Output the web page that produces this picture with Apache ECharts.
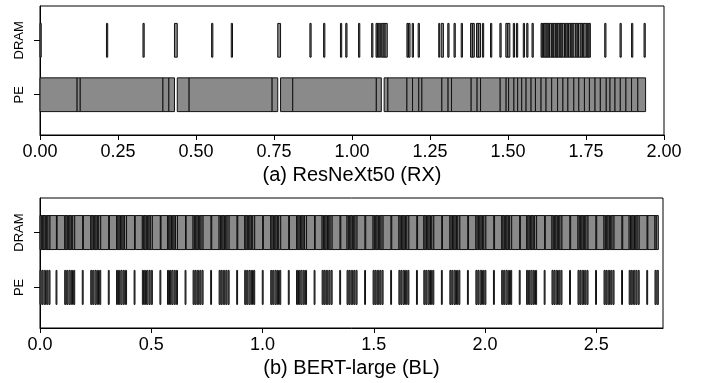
<!DOCTYPE html>
<html>
<head>
<meta charset="utf-8">
<script src="https://cdn.jsdelivr.net/npm/echarts@6/dist/echarts.min.js"></script>
<style>
    html, body { margin: 0; padding: 0; background: #fff; }
    #chart { width: 702px; height: 383px; }
</style>
</head>
<body>
<div id="chart"></div>
<script>
    // rows on the y axis: 0 = PE, 1 = DRAM
    const ROWS = ['PE', 'DRAM'];
    const TICKS_A = [0, 0.25, 0.5, 0.75, 1, 1.25, 1.5, 1.75, 2];
    const TICKS_B = [0, 0.5, 1, 1.5, 2, 2.5];

    // (a) ResNeXt50: DRAM accesses [start, end]
    const DRAM_A = [
        [0.000, 0.004], [0.213, 0.217], [0.330, 0.334], [0.431, 0.440], [0.550, 0.554], [0.613, 0.617],
        [0.762, 0.771], [0.865, 0.869], [0.909, 0.913], [0.963, 0.967], [0.980, 0.984], [1.021, 1.025],
        [1.063, 1.067], [1.077, 1.081], [1.082, 1.086], [1.087, 1.092], [1.094, 1.100], [1.100, 1.106],
        [1.106, 1.113], [1.176, 1.180], [1.181, 1.186], [1.193, 1.197], [1.212, 1.216], [1.278, 1.281],
        [1.286, 1.293], [1.307, 1.311], [1.327, 1.331], [1.350, 1.354], [1.380, 1.386], [1.386, 1.392],
        [1.399, 1.405], [1.405, 1.412], [1.418, 1.422], [1.444, 1.448], [1.474, 1.478], [1.493, 1.499],
        [1.499, 1.506], [1.517, 1.521], [1.527, 1.531], [1.549, 1.553], [1.560, 1.564], [1.577, 1.581],
        [1.606, 1.610], [1.610, 1.614], [1.614, 1.619], [1.619, 1.625], [1.625, 1.629], [1.629, 1.633],
        [1.633, 1.640], [1.640, 1.644], [1.644, 1.647], [1.647, 1.653], [1.653, 1.657], [1.657, 1.660],
        [1.660, 1.666], [1.666, 1.670], [1.670, 1.674], [1.674, 1.681], [1.681, 1.685], [1.685, 1.690],
        [1.690, 1.694], [1.694, 1.700], [1.700, 1.705], [1.705, 1.709], [1.709, 1.717], [1.717, 1.722],
        [1.722, 1.726], [1.726, 1.734], [1.734, 1.739], [1.739, 1.743], [1.743, 1.751], [1.751, 1.756],
        [1.756, 1.760], [1.760, 1.764],
        [1.810, 1.814], [1.859, 1.863], [1.896, 1.900], [1.936, 1.940]
    ];
    // (a) PE compute segments [start, end]
    const PE_A = [
        [0.000, 0.119], [0.119, 0.129], [0.129, 0.394], [0.394, 0.413], [0.413, 0.431],
        [0.440, 0.478], [0.478, 0.744], [0.744, 0.762],
        [0.771, 0.810], [0.810, 1.078], [1.078, 1.094],
        [1.103, 1.115], [1.115, 1.176], [1.176, 1.194], [1.194, 1.214], [1.214, 1.224], [1.224, 1.288],
        [1.288, 1.308], [1.308, 1.319], [1.319, 1.382], [1.382, 1.401], [1.401, 1.412], [1.412, 1.475],
        [1.475, 1.494], [1.494, 1.502], [1.502, 1.519], [1.519, 1.531], [1.531, 1.544], [1.544, 1.558],
        [1.558, 1.574], [1.574, 1.588], [1.588, 1.606], [1.606, 1.622], [1.622, 1.640], [1.640, 1.659],
        [1.659, 1.676], [1.676, 1.692], [1.692, 1.711], [1.711, 1.727], [1.727, 1.745], [1.745, 1.761],
        [1.761, 1.779], [1.779, 1.796], [1.796, 1.815], [1.815, 1.827], [1.827, 1.843], [1.843, 1.860],
        [1.860, 1.878], [1.878, 1.896], [1.896, 1.916], [1.916, 1.941]
    ];

    // (b) BERT-large: DRAM segment edges (back to back)
    const DRAM_B_EDGES = [
        0.000, 0.006, 0.012, 0.018, 0.024, 0.030, 0.036, 0.045, 0.074, 0.077,
        0.111, 0.117, 0.123, 0.129, 0.135, 0.141, 0.147, 0.156, 0.192, 0.195,
        0.228, 0.234, 0.240, 0.246, 0.252, 0.258, 0.264, 0.273, 0.309, 0.312,
        0.344, 0.350, 0.356, 0.362, 0.368, 0.374, 0.380, 0.389, 0.425, 0.428,
        0.460, 0.466, 0.472, 0.478, 0.484, 0.490, 0.496, 0.505, 0.541, 0.544,
        0.573, 0.579, 0.585, 0.591, 0.597, 0.603, 0.609, 0.618, 0.654, 0.657,
        0.688, 0.694, 0.700, 0.706, 0.712, 0.718, 0.724, 0.733, 0.769, 0.772,
        0.805, 0.811, 0.817, 0.823, 0.829, 0.835, 0.841, 0.850, 0.886, 0.889,
        0.920, 0.926, 0.932, 0.938, 0.944, 0.950, 0.956, 0.965, 1.001, 1.004,
        1.037, 1.043, 1.049, 1.055, 1.061, 1.067, 1.073, 1.082, 1.118, 1.121,
        1.153, 1.159, 1.165, 1.171, 1.177, 1.183, 1.189, 1.198, 1.234, 1.237,
        1.268, 1.274, 1.280, 1.286, 1.292, 1.298, 1.304, 1.313, 1.349, 1.352,
        1.380, 1.386, 1.392, 1.398, 1.404, 1.410, 1.416, 1.425, 1.461, 1.464,
        1.497, 1.503, 1.509, 1.515, 1.521, 1.527, 1.533, 1.542, 1.578, 1.581,
        1.613, 1.619, 1.625, 1.631, 1.637, 1.643, 1.649, 1.658, 1.694, 1.697,
        1.725, 1.731, 1.737, 1.743, 1.749, 1.755, 1.761, 1.770, 1.806, 1.809,
        1.842, 1.848, 1.854, 1.860, 1.866, 1.872, 1.878, 1.887, 1.923, 1.926,
        1.959, 1.965, 1.971, 1.977, 1.983, 1.989, 1.995, 2.004, 2.040, 2.043,
        2.075, 2.081, 2.087, 2.093, 2.099, 2.105, 2.111, 2.120, 2.156, 2.159,
        2.187, 2.193, 2.199, 2.205, 2.211, 2.217, 2.223, 2.232, 2.268, 2.271,
        2.301, 2.307, 2.313, 2.319, 2.325, 2.331, 2.337, 2.346, 2.382, 2.385,
        2.418, 2.424, 2.430, 2.436, 2.442, 2.448, 2.454, 2.463, 2.499, 2.502,
        2.535, 2.541, 2.547, 2.553, 2.559, 2.565, 2.571, 2.580, 2.616, 2.619,
        2.648, 2.654, 2.660, 2.666, 2.672, 2.678, 2.684, 2.693, 2.729, 2.732,
        2.764, 2.770, 2.779
    ];
    // (b) PE bursts [start, end]
    const PE_B = [
        [0.000, 0.005], [0.009, 0.014], [0.019, 0.025], [0.030, 0.035], [0.040, 0.045], [0.072, 0.076],
        [0.111, 0.116], [0.120, 0.125], [0.130, 0.136], [0.141, 0.146], [0.151, 0.156], [0.190, 0.194],
        [0.228, 0.233], [0.237, 0.242], [0.247, 0.253], [0.258, 0.263], [0.268, 0.273], [0.307, 0.311],
        [0.344, 0.349], [0.353, 0.358], [0.363, 0.369], [0.374, 0.379], [0.384, 0.389], [0.423, 0.427],
        [0.460, 0.465], [0.469, 0.474], [0.479, 0.485], [0.490, 0.495], [0.500, 0.505], [0.539, 0.543],
        [0.573, 0.578], [0.582, 0.587], [0.592, 0.598], [0.603, 0.608], [0.613, 0.618], [0.652, 0.656],
        [0.688, 0.693], [0.697, 0.702], [0.707, 0.713], [0.718, 0.723], [0.728, 0.733], [0.767, 0.771],
        [0.805, 0.810], [0.814, 0.819], [0.824, 0.830], [0.835, 0.840], [0.845, 0.850], [0.884, 0.888],
        [0.920, 0.925], [0.929, 0.934], [0.939, 0.945], [0.950, 0.955], [0.960, 0.965], [0.999, 1.003],
        [1.037, 1.042], [1.046, 1.051], [1.056, 1.062], [1.067, 1.072], [1.077, 1.082], [1.116, 1.120],
        [1.153, 1.158], [1.162, 1.167], [1.172, 1.178], [1.183, 1.188], [1.193, 1.198], [1.232, 1.236],
        [1.268, 1.273], [1.277, 1.282], [1.287, 1.293], [1.298, 1.303], [1.308, 1.313], [1.347, 1.351],
        [1.380, 1.385], [1.389, 1.394], [1.399, 1.405], [1.410, 1.415], [1.420, 1.425], [1.459, 1.463],
        [1.497, 1.502], [1.506, 1.511], [1.516, 1.522], [1.527, 1.532], [1.537, 1.542], [1.576, 1.580],
        [1.613, 1.618], [1.622, 1.627], [1.632, 1.638], [1.643, 1.648], [1.653, 1.658], [1.692, 1.696],
        [1.725, 1.730], [1.734, 1.739], [1.744, 1.750], [1.755, 1.760], [1.765, 1.770], [1.804, 1.808],
        [1.842, 1.847], [1.851, 1.856], [1.861, 1.867], [1.872, 1.877], [1.882, 1.887], [1.921, 1.925],
        [1.959, 1.964], [1.968, 1.973], [1.978, 1.984], [1.989, 1.994], [1.999, 2.004], [2.038, 2.042],
        [2.075, 2.080], [2.084, 2.089], [2.094, 2.100], [2.105, 2.110], [2.115, 2.120], [2.154, 2.158],
        [2.187, 2.192], [2.196, 2.201], [2.206, 2.212], [2.217, 2.222], [2.227, 2.232], [2.266, 2.270],
        [2.301, 2.306], [2.310, 2.315], [2.320, 2.326], [2.331, 2.336], [2.341, 2.346], [2.380, 2.384],
        [2.418, 2.423], [2.427, 2.432], [2.437, 2.443], [2.448, 2.453], [2.458, 2.463], [2.497, 2.501],
        [2.535, 2.540], [2.544, 2.549], [2.554, 2.560], [2.565, 2.570], [2.575, 2.580], [2.614, 2.618],
        [2.648, 2.653], [2.657, 2.662], [2.667, 2.673], [2.678, 2.683], [2.688, 2.693], [2.727, 2.731],
        [2.764, 2.769], [2.773, 2.779]
    ];

    let chart = echarts.init(document.getElementById('chart'), null, {renderer: 'canvas'});

    const FONT = 'Liberation Sans, Arial, sans-serif';
    const BAR_H = 0.62;

    let toItems = (pairs, row) => pairs.map((p) => [p[0], p[1], row]);
    let edgeItems = (edges, row) => {
        let out = [];
        for (let i = 0; i < edges.length - 1; i++) {
            out.push([edges[i], edges[i + 1], row]);
        }
        return out;
    };

    let renderItem = function (params, api) {
        let row = api.value(2);
        let s = api.coord([api.value(0), row]);
        let e = api.coord([api.value(1), row]);
        let h = api.size([0, BAR_H])[1];
        return {
            type: 'rect',
            shape: {x: s[0], y: s[1] - h / 2, width: Math.max(e[0] - s[0], 0.5), height: h},
            style: {fill: '#8a8a8a', stroke: '#111', lineWidth: 1}
        };
    };

    let xAxisOf = (grid, max, ticks, digits, name) => ({
        type: 'value',
        gridIndex: grid,
        min: 0,
        max: max,
        name: name,
        nameLocation: 'middle',
        nameGap: 30,
        nameTextStyle: {fontSize: 20, color: '#000', fontFamily: FONT},
        axisLine: {show: true, onZero: false, lineStyle: {color: '#000', width: 1}},
        axisTick: {show: true, length: 5, customValues: ticks, lineStyle: {color: '#000'}},
        axisLabel: {
            customValues: ticks,
            margin: 8,
            fontSize: 18,
            color: '#000',
            fontFamily: FONT,
            formatter: (v) => Number(v).toFixed(digits)
        },
        splitLine: {show: false}
    });

    let yAxisOf = (grid) => ({
        type: 'value',
        gridIndex: grid,
        min: -0.74,
        max: 1.63,
        axisLine: {show: true, onZero: false, lineStyle: {color: '#000', width: 1}},
        axisTick: {show: true, length: 6, customValues: [0, 1], lineStyle: {color: '#000'}},
        axisLabel: {
            customValues: [0, 1],
            rotate: 90,
            margin: 14,
            fontSize: 13,
            color: '#000',
            fontFamily: FONT,
            formatter: (v) => ROWS[Math.round(v)]
        },
        splitLine: {show: false}
    });

    let option = {
        animation: false,
        backgroundColor: '#fff',
        grid: [
            {left: 40, right: 38, top: 6, height: 129, show: true, borderColor: '#000', borderWidth: 1},
            {left: 40, right: 39, top: 198, height: 130, show: true, borderColor: '#000', borderWidth: 1}
        ],
        xAxis: [
            xAxisOf(0, 2, TICKS_A, 2, '(a) ResNeXt50 (RX)'),
            xAxisOf(1, 2.8, TICKS_B, 1, '(b) BERT-large (BL)')
        ],
        yAxis: [yAxisOf(0), yAxisOf(1)],
        series: [
            {type: 'custom', xAxisIndex: 0, yAxisIndex: 0, renderItem: renderItem,
                encode: {x: [0, 1], y: 2}, data: toItems(PE_A, 0)},
            {type: 'custom', xAxisIndex: 0, yAxisIndex: 0, renderItem: renderItem,
                encode: {x: [0, 1], y: 2}, data: toItems(DRAM_A, 1)},
            {type: 'custom', xAxisIndex: 1, yAxisIndex: 1, renderItem: renderItem,
                encode: {x: [0, 1], y: 2}, data: edgeItems(DRAM_B_EDGES, 1)},
            {type: 'custom', xAxisIndex: 1, yAxisIndex: 1, renderItem: renderItem,
                encode: {x: [0, 1], y: 2}, data: toItems(PE_B, 0)}
        ]
    };
    chart.setOption(option);
</script>
</body>
</html>
